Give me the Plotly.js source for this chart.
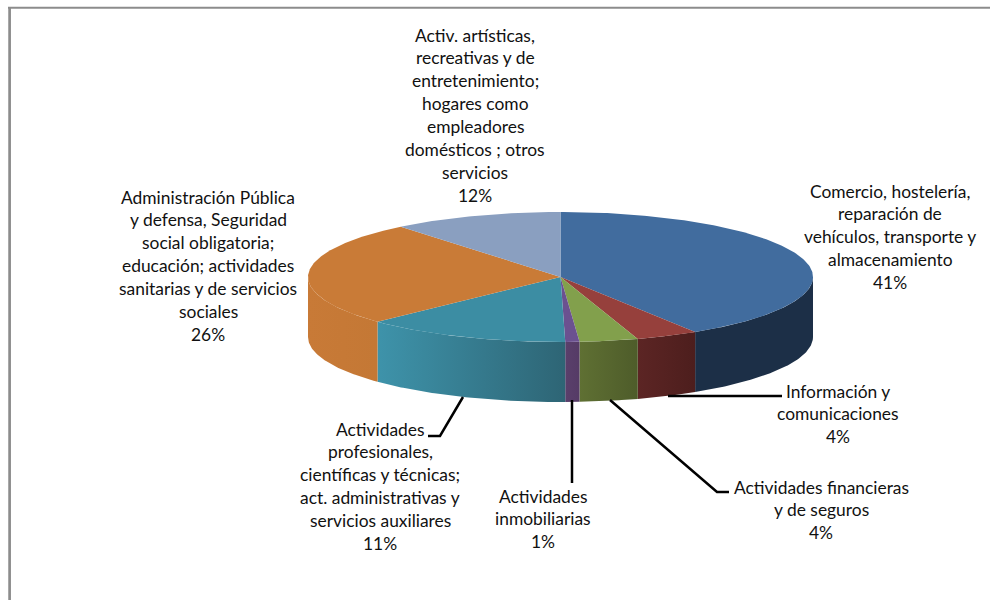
<!DOCTYPE html>
<html><head><meta charset="utf-8">
<script src="https://cdn.plot.ly/plotly-3.0.1.min.js"></script>
<style>html,body{margin:0;padding:0;background:#fff}#c{width:990px;height:600px}</style>
</head><body><div id="c"></div>
<script>
// Shares as measured on the drawn 3D pie, clockwise from 12 o'clock
const categories = ["Comercio","Información","Financieras","Inmobiliarias","Profesionales","Administración","Artísticas"];
const shares = [41.05, 4.0, 3.75, 0.9, 13.2, 26.2, 10.9];
const percentLabels = ["41%","4%","4%","1%","11%","26%","12%"];
const labelLines = [
 ["Comercio, hostelería,","reparación de","vehículos, transporte y","almacenamiento"],
 ["Información y","comunicaciones"],
 ["Actividades financieras","y de seguros"],
 ["Actividades","inmobiliarias"],
 ["Actividades","profesionales,","científicas y técnicas;","act. administrativas y","servicios auxiliares"],
 ["Administración Pública","y defensa, Seguridad","social obligatoria;","educación; actividades","sanitarias y de servicios","sociales"],
 ["Activ. artísticas,","recreativas y de","entretenimiento;","hogares como","empleadores","domésticos ; otros","servicios"]
];
const topColors = ["#416c9e","#96403c","#82a04c","#6b5190","#3c8da3","#c97b37","#8a9fc0"];
const sideColors = [
 ["#1c2f47","#1c2f47"],["#5c2524","#4d1e1d"],["#5f7033","#4e5c2a"],["#5a3f6b","#553b66"],
 ["#3e93aa","#2e6575"],["#c87a37","#c47835"],["#8a9fc0","#8a9fc0"]
];
const labelAnchors = [[890,191],[838,391],[821,487],[543,496],[380,429],[208,197],[475,35]];
const leaders = [
 [[668,396],[782,396]],
 [[610,400],[717,492],[729,492]],
 [[572,400],[572,483]],
 [[463,397],[440,436],[428,436]]
];
const cx=560.5, cy=277, rx=252.5, ry=65, depth=60, lineH=22.9;
const total = shares.reduce((a,b)=>a+b,0);
const pt=(deg,dy=0)=>{const r=deg*Math.PI/180;return [cx+rx*Math.sin(r),cy-ry*Math.cos(r)+dy];};
const arc=(a,b,dy)=>{const n=Math.max(2,Math.ceil((b-a)*1.5)),o=[];for(let i=0;i<=n;i++)o.push(pt(a+(b-a)*i/n,dy));return o;};
const poly=(pts,color,grad)=>{const t={type:'scatter',mode:'lines',x:pts.map(p=>p[0]),y:pts.map(p=>p[1]),
  fill:'toself',line:{width:0,color:color},hoverinfo:'skip',showlegend:false};
  if(grad){t.fillgradient={type:'horizontal',colorscale:[[0,grad[0]],[1,grad[1]]]};}else{t.fillcolor=color;}
  return t;};
const traces=[];const tops=[];let a=0;
shares.forEach((v,i)=>{
  const b=a+v/total*360;
  const s=Math.max(a,90),e=Math.min(b,270);
  if(e>s){const p=arc(s,e,0).concat(arc(s,e,depth).reverse());p.push(p[0]);traces.push(poly(p,sideColors[i][0],sideColors[i]));}
  const p=[[cx,cy]].concat(arc(a,b,0));p.push([cx,cy]);tops.push(poly(p,topColors[i]));
  a=b;
});
traces.push(...tops);
leaders.forEach(l=>traces.push({type:'scatter',mode:'lines',x:l.map(p=>p[0]),y:l.map(p=>p[1]),
  line:{color:'#000',width:2.5,shape:'linear'},hoverinfo:'skip',showlegend:false}));
const annotations=[];
labelLines.forEach((lines,i)=>{
  lines.concat([percentLabels[i]]).forEach((t,j)=>annotations.push({x:labelAnchors[i][0],y:labelAnchors[i][1]+j*lineH,
    xref:'x',yref:'y',text:t,showarrow:false,xanchor:'center',yanchor:'middle',
    font:{family:'Lato, "Open Sans", sans-serif',size:17.4,color:'#111'}}));
});
const shapes=[
 {type:'line',xref:'x',yref:'y',x0:9.6,x1:9.6,y0:7,y1:600,line:{color:'#8c8c8c',width:2.7}},
 {type:'line',xref:'x',yref:'y',x0:8,x1:990,y0:7.7,y1:7.7,line:{color:'#8c8c8c',width:2}}
];
const ax=(r)=>({range:r,visible:false,fixedrange:true,showgrid:false,zeroline:false});
Plotly.newPlot('c',traces,{width:990,height:600,margin:{l:0,r:0,t:0,b:0},paper_bgcolor:'#fff',plot_bgcolor:'#fff',
  xaxis:ax([0,990]),yaxis:ax([600,0]),annotations,shapes,showlegend:false},{displayModeBar:false,staticPlot:true});
</script></body></html>
